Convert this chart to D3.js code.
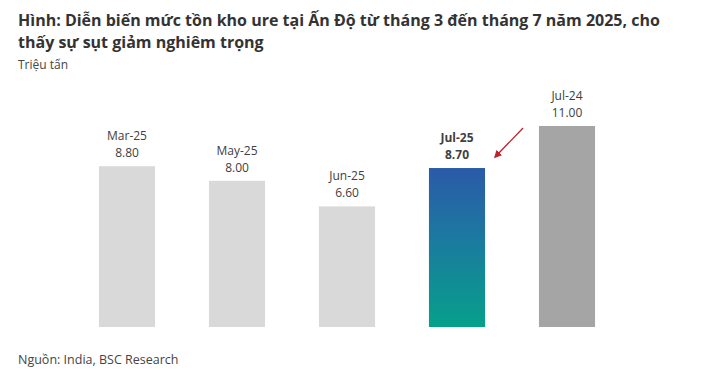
<!DOCTYPE html>
<html>
<head>
<meta charset="utf-8">
<script src="https://cdn.jsdelivr.net/npm/d3@7"></script>
<style>
  body { margin: 0; background: #fff; }
  svg { display: block; font-family: "Open Sans", Lato, sans-serif; }
</style>
</head>
<body>
<div id="chart"></div>
<script>
// Data
const categories = ["Mar-25", "May-25", "Jun-25", "Jul-25", "Jul-24"];
const values = [8.80, 8.00, 6.60, 8.70, 11.00];
const highlight = "Jul-25";
const previousYear = "Jul-24";

const width = 709;
const height = 382;

const svg = d3.select("#chart")
    .append("svg")
    .attr("width", width)
    .attr("height", height);

// Gradient for highlighted bar
const defs = svg.append("defs");
const grad = defs.append("linearGradient")
    .attr("id", "hl")
    .attr("x1", 0).attr("y1", 0).attr("x2", 0).attr("y2", 1);
grad.append("stop").attr("offset", "0%").attr("stop-color", "#2b5aa8");
grad.append("stop").attr("offset", "45%").attr("stop-color", "#1b7aa0");
grad.append("stop").attr("offset", "100%").attr("stop-color", "#06a08a");

defs.append("marker")
    .attr("id", "arrow")
    .attr("viewBox", "0 0 10 10")
    .attr("refX", 8).attr("refY", 5)
    .attr("markerWidth", 6).attr("markerHeight", 6)
    .attr("orient", "auto")
    .append("path")
    .attr("d", "M0,0 L10,5 L0,10 z")
    .attr("fill", "#c0232b");

// Title
const title = svg.append("text")
    .attr("fill", "#333")
    .attr("font-size", 16)
    .attr("font-weight", "bold");
title.append("tspan").attr("x", 18).attr("y", 26)
    .text("Hình: Diễn biến mức tồn kho ure tại Ấn Độ từ tháng 3 đến tháng 7 năm 2025, cho");
title.append("tspan").attr("x", 18).attr("y", 48)
    .text("thấy sự sụt giảm nghiêm trọng");

svg.append("text")
    .attr("x", 18).attr("y", 69)
    .attr("fill", "#444")
    .attr("font-size", 12)
    .text("Triệu tấn");

// Scales
const x = d3.scaleBand()
    .domain(categories)
    .range([72, 622])
    .paddingInner(0.49)
    .paddingOuter(0.245);

const y = d3.scaleLinear()
    .domain([0, 11])
    .range([327, 126]);

const data = categories.map((c, i) => ({ name: c, value: values[i] }));

const bars = svg.append("g");
bars.selectAll("rect")
    .data(data)
    .join("rect")
    .attr("x", d => x(d.name))
    .attr("width", x.bandwidth())
    .attr("y", d => y(d.value))
    .attr("height", d => y(0) - y(d.value))
    .attr("fill", d => d.name === highlight ? "url(#hl)"
        : d.name === previousYear ? "#a5a5a5" : "#d9d9d9");

const labels = svg.append("g")
    .attr("text-anchor", "middle")
    .attr("font-size", 12)
    .attr("fill", "#404040");

labels.selectAll("text.cat")
    .data(data)
    .join("text")
    .attr("class", "cat")
    .attr("x", d => x(d.name) + x.bandwidth() / 2)
    .attr("y", d => y(d.value) - 26)
    .attr("font-weight", d => d.name === highlight ? "bold" : null)
    .text(d => d.name);

labels.selectAll("text.val")
    .data(data)
    .join("text")
    .attr("class", "val")
    .attr("x", d => x(d.name) + x.bandwidth() / 2)
    .attr("y", d => y(d.value) - 9)
    .attr("font-weight", d => d.name === highlight ? "bold" : null)
    .text(d => d.value.toFixed(2));

// Arrow pointing to highlighted bar
const hx = x(highlight) + x.bandwidth();
const hy = y(values[categories.indexOf(highlight)]);
svg.append("line")
    .attr("x1", hx + 38).attr("y1", hy - 40)
    .attr("x2", hx + 10).attr("y2", hy - 11)
    .attr("stroke", "#c0232b")
    .attr("stroke-width", 1.3)
    .attr("marker-end", "url(#arrow)");

// Source
svg.append("text")
    .attr("x", 18).attr("y", 364)
    .attr("fill", "#444")
    .attr("font-size", 12.5)
    .text("Nguồn: India, BSC Research");
</script>
</body>
</html>
